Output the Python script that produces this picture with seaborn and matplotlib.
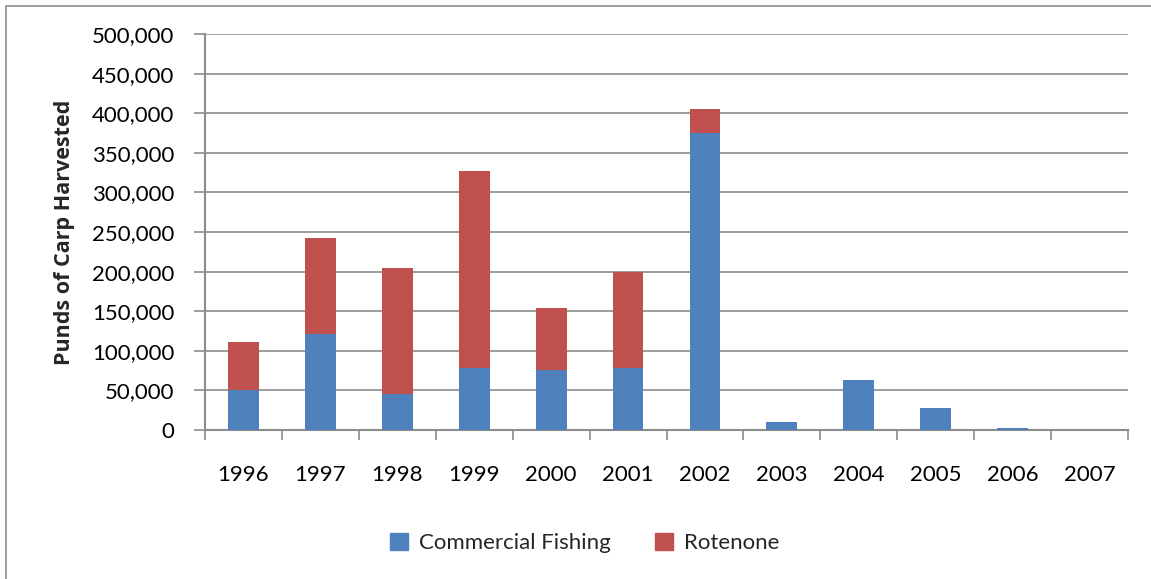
import matplotlib
matplotlib.use("Agg")
import matplotlib.pyplot as plt
import matplotlib.patches as mpatches
from matplotlib.ticker import FuncFormatter, FixedLocator
import seaborn as sns
import pandas as pd
import numpy as np

years = ["1996", "1997", "1998", "1999", "2000", "2001",
         "2002", "2003", "2004", "2005", "2006", "2007"]
commercial = [51000, 121000, 45500, 78500, 76000, 78500,
              374500, 10000, 63000, 28000, 2500, 0]
rotenone = [60500, 122000, 159500, 248000, 78500, 121500,
            30500, 0, 0, 0, 0, 0]

blue = "#4F81BD"
red = "#C0504D"
grid_gray = "#8C8C8C"

sns.set_theme(style="white")
plt.rcParams["font.family"] = ["Lato", "DejaVu Sans"]

df = pd.DataFrame({"year": years, "commercial": commercial, "rotenone": rotenone})
df["total"] = df["commercial"] + df["rotenone"]

fig = plt.figure(figsize=(11.51, 5.79), dpi=100)
ax = fig.add_axes([205 / 1151, 1 - 430 / 579, (1128 - 205) / 1151, (430 - 34) / 579])

# stacked bars: total in red underneath, commercial share in blue on top
sns.barplot(data=df, x="year", y="total", color=red, width=0.4,
            saturation=1, ax=ax, zorder=3, linewidth=0, edgecolor="none")
sns.barplot(data=df, x="year", y="commercial", color=blue, width=0.4,
            saturation=1, ax=ax, zorder=4, linewidth=0, edgecolor="none")

ax.set_xlim(-0.5, len(years) - 0.5)
ax.set_ylim(0, 500000)
ax.set_yticks(np.arange(0, 500001, 50000))
ax.yaxis.set_major_formatter(FuncFormatter(lambda v, p: f"{int(v):,}"))
ax.yaxis.grid(True, color=grid_gray, linewidth=1.2, zorder=0)
ax.set_axisbelow(True)

ax.set_xlabel("")
ax.set_ylabel("Punds of Carp Harvested", fontsize=15.5, fontweight="bold",
              family=["Open Sans", "DejaVu Sans"], labelpad=12)

for side in ["top", "right"]:
    ax.spines[side].set_visible(False)
for side in ["left", "bottom"]:
    ax.spines[side].set_color(grid_gray)
    ax.spines[side].set_linewidth(1.5)

ax.xaxis.set_minor_locator(FixedLocator(np.arange(-0.5, len(years), 1.0)))
ax.tick_params(axis="x", which="major", length=0, pad=25, labelsize=16, colors="black")
ax.tick_params(axis="x", which="minor", length=7, width=1.2, color=grid_gray, direction="out", bottom=True)
ax.tick_params(axis="y", which="major", length=8, width=1.2, color=grid_gray, direction="out",
               left=True, pad=14, labelsize=16, labelcolor="black")

handles = [mpatches.Patch(color=blue, label="Commercial Fishing"),
           mpatches.Patch(color=red, label="Rotenone")]
fig.legend(handles=handles, loc="center", bbox_to_anchor=(585 / 1151, 1 - 543 / 579),
           ncol=2, frameon=False, fontsize=16, handlelength=0.8, handleheight=0.8,
           handletextpad=0.5, columnspacing=2.0)

fig.patches.append(mpatches.Rectangle((6 / 1151, -0.01), 1.2, 1 - 6 / 579 + 0.01,
                                      transform=fig.transFigure, fill=False,
                                      edgecolor="#8C8C8C", linewidth=1.2))

fig.savefig("out.png", dpi=100)
